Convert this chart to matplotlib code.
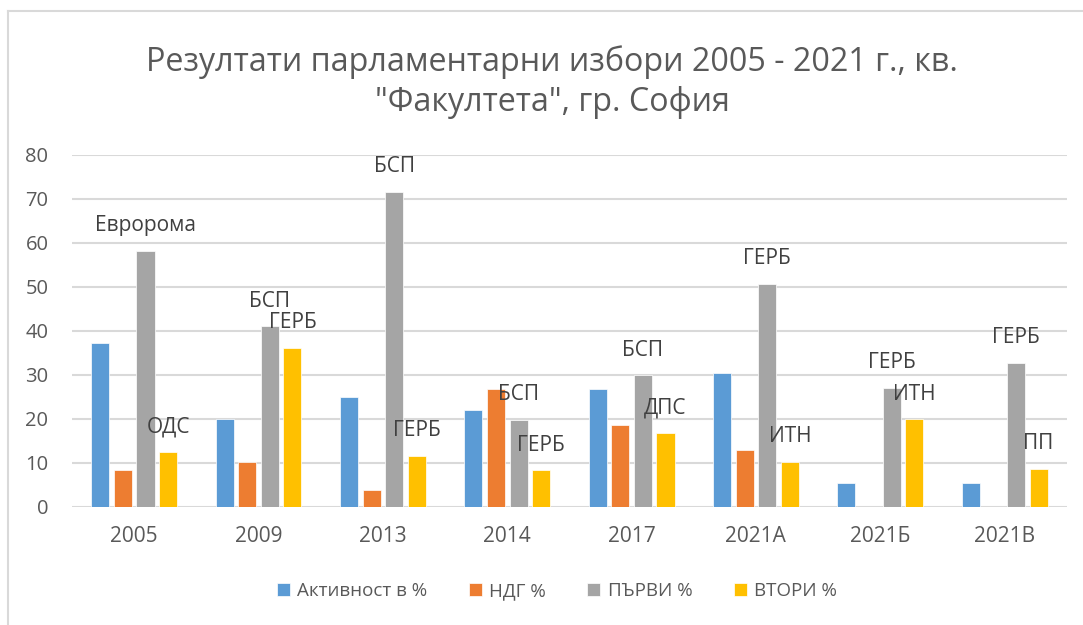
import numpy as np
import matplotlib.pyplot as plt
from matplotlib.lines import Line2D

# data
years = ['2005', '2009', '2013', '2014', '2017', '2021А', '2021Б', '2021В']
activity = [37.2, 19.9, 24.9, 22.1, 26.9, 30.4, 5.5, 5.5]
ndg = [8.3, 10.2, 3.9, 26.8, 18.7, 13.0, 0, 0]
first = [58.2, 41.1, 71.7, 19.8, 30.0, 50.7, 27.1, 32.8]
second = [12.4, 36.2, 11.6, 8.3, 16.8, 10.3, 19.9, 8.7]
first_party = ['Евророма', 'БСП', 'БСП', 'БСП', 'БСП', 'ГЕРБ', 'ГЕРБ', 'ГЕРБ']
second_party = ['ОДС', 'ГЕРБ', 'ГЕРБ', 'ГЕРБ', 'ДПС', 'ИТН', 'ИТН', 'ПП']

series = [('Активност в %', activity, '#5B9BD5'),
          ('НДГ %', ndg, '#ED7D31'),
          ('ПЪРВИ %', first, '#A5A5A5'),
          ('ВТОРИ %', second, '#FFC000')]

txt = '#595959'
grid = '#D9D9D9'
plt.rcParams['font.family'] = ['Open Sans', 'DejaVu Sans']

fig = plt.figure(figsize=(10.83, 6.25), dpi=100)
ax = fig.add_axes([0.0665, 0.1888, 0.9185, 0.5632])

x = np.arange(len(years))
pitch = 0.182
width = 0.145
bars = []
for i, (name, vals, col) in enumerate(series):
    b = ax.bar(x + (i - 1.5) * pitch, vals, width, color=col, label=name,
               edgecolor='white', linewidth=0.5, zorder=3)
    bars.append(b)

# party labels above the first/second bars
for rects, names in ((bars[2], first_party), (bars[3], second_party)):
    for r, name in zip(rects, names):
        ax.annotate(name, (r.get_x() + r.get_width() / 2, r.get_height()),
                    xytext=(0, 18), textcoords='offset points',
                    ha='center', va='center', fontsize=15, color='#404040', zorder=4)

ax.set_xlim(-0.5, len(years) - 0.5)
ax.set_ylim(0, 80)
ax.set_yticks(range(0, 81, 10))
ax.set_xticks(x)
ax.set_xticklabels(years)
ax.tick_params(axis='y', length=0, labelsize=14.5, labelcolor=txt, pad=17)
ax.tick_params(axis='x', length=0, labelsize=15, labelcolor=txt, pad=14)
ax.grid(axis='y', color=grid, linewidth=1.5, zorder=0)
for s in ax.spines.values():
    s.set_visible(False)

fig.text(552 / 1083, 1 - 82 / 625,
         'Резултати парламентарни избори 2005 - 2021 г., кв.\n"Факултета", гр. София',
         ha='center', va='center', fontsize=23.2, color=txt, linespacing=1.28)

fig.legend(loc='center', bbox_to_anchor=(557 / 1083, 1 - 591 / 625), ncol=4,
           frameon=False, fontsize=13.5, labelcolor=txt, handlelength=0.7,
           handleheight=0.7, handletextpad=0.4, columnspacing=2.2)

# chart border (left and top edges visible)
fig.add_artist(Line2D([8 / 1083, 8 / 1083], [0, 1 - 11 / 625], color=grid, linewidth=1.5))
fig.add_artist(Line2D([8 / 1083, 1], [1 - 11 / 625, 1 - 11 / 625], color=grid, linewidth=1.5))

fig.savefig('out.png', dpi=100)
